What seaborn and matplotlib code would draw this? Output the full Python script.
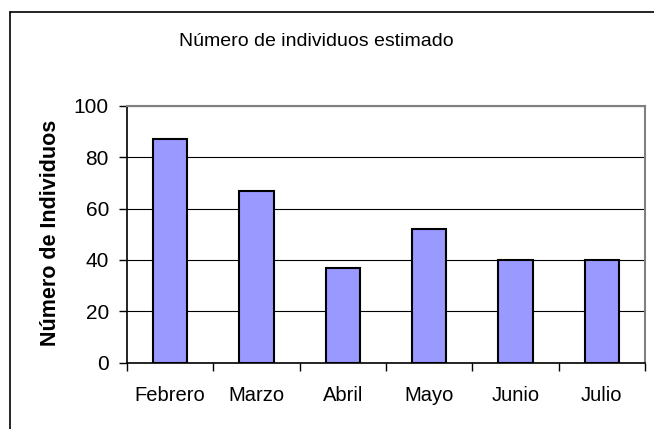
import matplotlib
matplotlib.use("Agg")
import matplotlib.pyplot as plt
from matplotlib.lines import Line2D
import seaborn as sns
import pandas as pd

meses = ["Febrero", "Marzo", "Abril", "Mayo", "Junio", "Julio"]
individuos = [87, 67, 37, 52, 40, 40]
yticks = [0, 20, 40, 60, 80, 100]

sns.set_style("white")
plt.rcParams["font.family"] = ["Liberation Sans", "DejaVu Sans"]
plt.rcParams["text.color"] = "black"
plt.rcParams["xtick.color"] = "black"
plt.rcParams["ytick.color"] = "black"
plt.rcParams["xtick.labelcolor"] = "black"
plt.rcParams["ytick.labelcolor"] = "black"

W, H = 654, 429
fig = plt.figure(figsize=(W / 100, H / 100), dpi=100)
ax = fig.add_axes([127 / W, 1 - 362.7 / H, (645 - 127) / W, (362.7 - 105.7) / H])

df = pd.DataFrame({"mes": meses, "n": individuos})
sns.barplot(data=df, x="mes", y="n", order=meses, color="#9999FF",
            width=0.4, edgecolor="black", linewidth=1.5, saturation=1, ax=ax, zorder=3)

ax.set_ylim(0, 100)
ax.set_xlim(-0.5, len(meses) - 0.5)
ax.set_yticks(yticks)
ax.set_yticklabels([str(v) for v in yticks], fontsize=15)
ax.yaxis.grid(True, color="black", linewidth=0.8, zorder=0)
ax.set_axisbelow(True)

# x ticks at category boundaries, labels at centers
ax.set_xticks([i - 0.5 for i in range(len(meses) + 1)])
ax.set_xticklabels([])
ax.set_xticks(list(range(len(meses))), minor=True)
ax.set_xticklabels(meses, minor=True, fontsize=14.5)
ax.tick_params(axis="x", which="major", direction="out", length=6, width=1, color="black", bottom=True)
ax.tick_params(axis="x", which="minor", length=0, pad=16.5)
ax.tick_params(axis="y", direction="out", length=6, width=1, color="black", left=True, pad=7)

ax.set_xlabel("")
ax.set_ylabel("")
for s in ["top", "right"]:
    ax.spines[s].set_color("#808080")
    ax.spines[s].set_linewidth(1.5)
for s in ["left", "bottom"]:
    ax.spines[s].set_color("black")
    ax.spines[s].set_linewidth(1.2)

fig.text(316 / W, 1 - 41 / H, "Número de individuos estimado", ha="center", va="center", fontsize=14)
fig.text(51 / W, 1 - 233 / H, "Número de Individuos", ha="center", va="center",
         rotation=90, fontsize=15.5, fontweight="bold")

# outer chart border (left and top visible)
fig.add_artist(Line2D([10 / W, 10 / W], [0, 1 - 12 / H], color="black", linewidth=1.2, transform=fig.transFigure))
fig.add_artist(Line2D([10 / W, 1], [1 - 12 / H, 1 - 12 / H], color="black", linewidth=1.2, transform=fig.transFigure))

fig.savefig("out.png", dpi=100)
